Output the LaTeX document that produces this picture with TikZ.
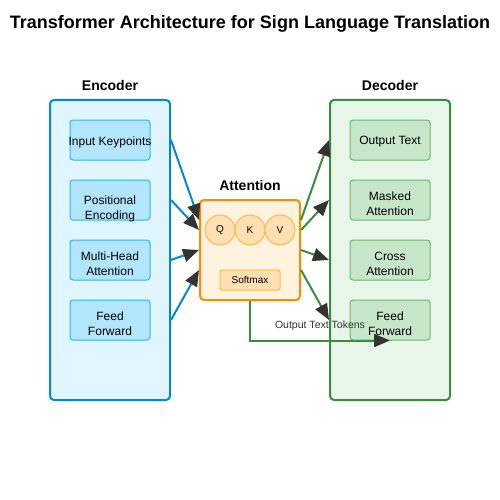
\documentclass[tikz,border=0pt]{standalone}
\usepackage{fontspec}
\setmainfont{Liberation Sans}
\usetikzlibrary{arrows.meta,calc}
\definecolor{encfill}{HTML}{E1F5FE}
\definecolor{encdraw}{HTML}{0288D1}
\definecolor{encin}{HTML}{B3E5FC}
\definecolor{encindraw}{HTML}{29B6F6}
\definecolor{decfill}{HTML}{E8F5E9}
\definecolor{decdraw}{HTML}{388E3C}
\definecolor{decin}{HTML}{C8E6C9}
\definecolor{decindraw}{HTML}{66BB6A}
\definecolor{attfill}{HTML}{FFF3E0}
\definecolor{attdraw}{HTML}{FB8C00}
\definecolor{attin}{HTML}{FFE0B2}
\definecolor{attindraw}{HTML}{FFB74D}
\definecolor{tipgray}{HTML}{333333}
\begin{document}
\begin{tikzpicture}[x=1pt,y=-1pt,
  outer/.style={draw, line width=2pt, rounded corners=4pt, minimum width=120pt, minimum height=300pt, inner sep=0pt},
  inbox/.style={draw, line width=1pt, rounded corners=3pt, minimum width=80pt, minimum height=40pt, inner sep=0pt},
  intext/.style={align=center, inner sep=0pt, font=\fontsize{12}{15}\selectfont},
  grp/.style={font=\fontsize{14}{16}\selectfont\bfseries},
  circ/.style={circle, draw=attindraw, fill=attin, line width=1pt, minimum size=30pt, inner sep=0pt, font=\fontsize{10}{12}\selectfont},
  link/.style={line width=2pt, -{Triangle[length=16pt,width=13pt,color=tipgray]}},
]
\useasboundingbox (0,0) rectangle (500,500);
\node[font=\fontsize{18}{22}\selectfont\bfseries] (title) at (250,24) {Transformer Architecture for Sign Language Translation};

\node[outer, draw=encdraw, fill=encfill] (enc) at (110,250) {};
\node[grp] (enclabel) at (110,85) {Encoder};
\node[inbox, draw=encindraw, fill=encin] (e1) at (110,140) {};
\node[inbox, draw=encindraw, fill=encin] (e2) at (110,200) {};
\node[inbox, draw=encindraw, fill=encin] (e3) at (110,260) {};
\node[inbox, draw=encindraw, fill=encin] (e4) at (110,320) {};
\node[intext] (e1t) at (110,142) {Input Keypoints};
\node[intext] (e2t) at (110,209) {Positional\\Encoding};
\node[intext] (e3t) at (110,264) {Multi-Head\\Attention};
\node[intext] (e4t) at (110,324) {Feed\\Forward};

\node[outer, draw=decdraw, fill=decfill] (dec) at (390,250) {};
\node[grp] (declabel) at (390,85) {Decoder};
\node[inbox, draw=decindraw, fill=decin] (d1) at (390,140) {};
\node[inbox, draw=decindraw, fill=decin] (d2) at (390,200) {};
\node[inbox, draw=decindraw, fill=decin] (d3) at (390,260) {};
\node[inbox, draw=decindraw, fill=decin] (d4) at (390,320) {};
\node[intext] (d1t) at (390,142) {Output Text};
\node[intext] (d2t) at (390,204) {Masked\\Attention};
\node[intext] (d3t) at (390,264) {Cross\\Attention};
\node[intext] (d4t) at (390,324) {Feed\\Forward};

\node[draw=attdraw, fill=attfill, line width=2pt, rounded corners=4pt, minimum size=100pt, inner sep=0pt] (att) at (250,250) {};
\node[grp] (attlabel) at (250,185) {Attention};
\node[circ] (q) at (220,230) {Q};
\node[circ] (k) at (250,230) {K};
\node[circ] (v) at (280,230) {V};
\node[draw=attindraw, fill=attin, line width=1pt, rounded corners=2pt, minimum width=60pt, minimum height=20pt, inner sep=0pt, font=\fontsize{10}{12}\selectfont] (sm) at (250,280) {Softmax};

% encoder to attention
\draw[link, encdraw] (enc.east |- e1) -- ([yshift=30pt]att.west);
\draw[link, encdraw] (enc.east |- e2) -- ([yshift=20pt]att.west);
\draw[link, encdraw] (enc.east |- e3) -- (att.west);
\draw[link, encdraw] (enc.east |- e4) -- ([yshift=-20pt]att.west);

% attention to decoder
\draw[link, decdraw] ([yshift=30pt]att.east) -- (dec.west |- d1);
\draw[link, decdraw] ([yshift=20pt]att.east) -- (dec.west |- d2);
\draw[link, decdraw] (att.east) -- (dec.west |- d3);
\draw[link, decdraw] ([yshift=-20pt]att.east) -- (dec.west |- d4);

\draw[link, decdraw] (att.south) |- (d4.south);
\node[font=\fontsize{10.5}{12}\selectfont, text=black!80] (otl) at (320,326) {Output Text Tokens};
\end{tikzpicture}
\end{document}
